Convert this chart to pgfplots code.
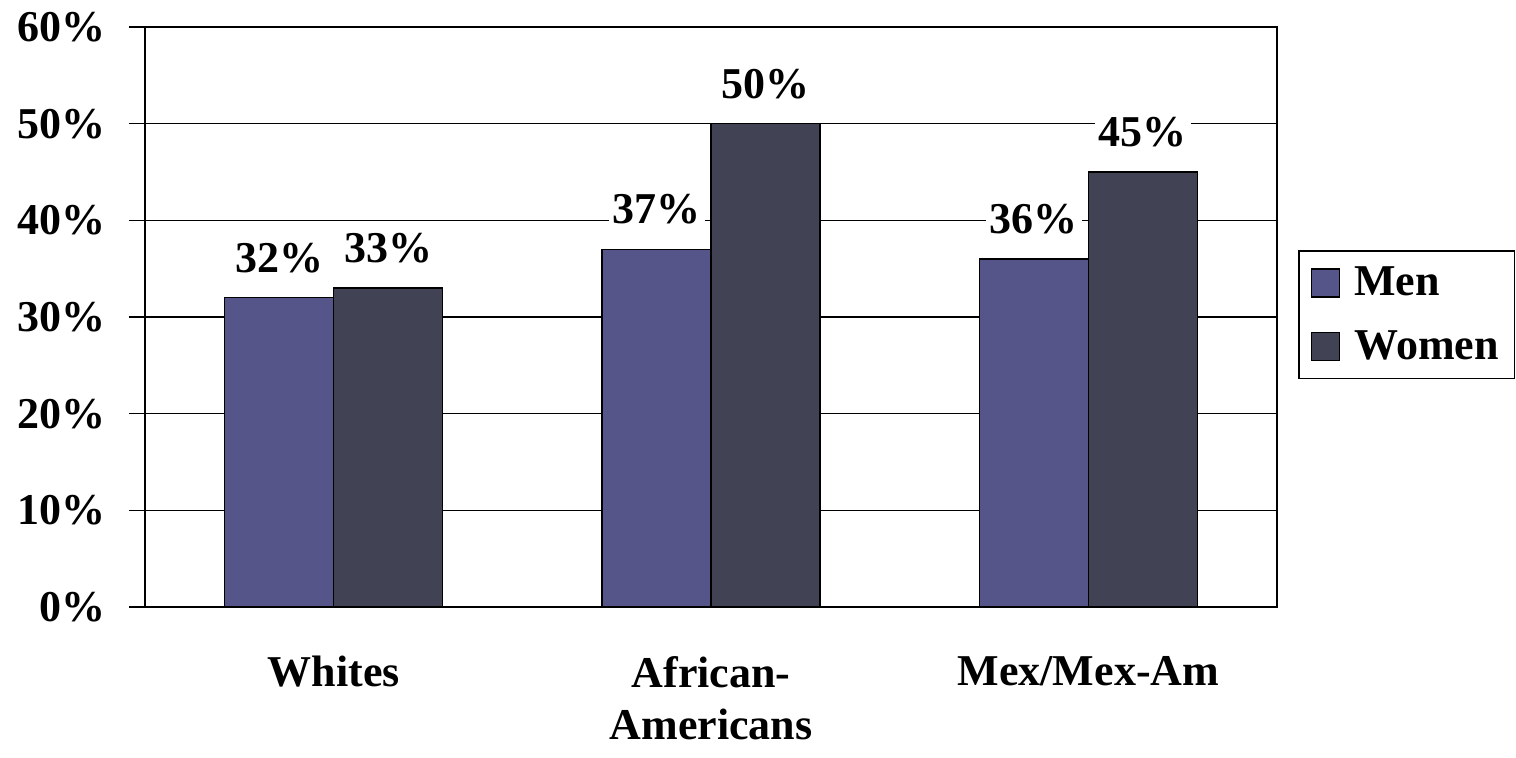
\documentclass[border=0pt]{standalone}
\usepackage{pgfplots}
\pgfplotsset{compat=1.18}
\usepackage{fontspec}
\setmainfont{Liberation Serif}
\definecolor{menc}{RGB}{85,85,138}
\definecolor{womenc}{RGB}{66,66,85}
\begin{document}
\begin{tikzpicture}
\path[use as bounding box] (-72.5pt,-75.5pt) rectangle (685.5pt,303.5pt);
\begin{axis}[
  at={(0pt,0pt)}, anchor=south west,
  scale only axis, width=566pt, height=290pt,
  ybar=0pt, bar width=54.5pt,
  xmin=-0.5, xmax=2.5, ymin=0, ymax=60,
  ytick={0,10,...,60},
  yticklabel={\pgfmathprintnumber{\tick}\%},
  ymajorgrids, grid style={black, line width=0.8pt},
  axis line style={black, line width=0.8pt},
  major tick style={black, line width=0.8pt},
  tick align=outside, major tick length=8pt,
  ytick pos=left, xtick pos=bottom,
  xtick={0,1,2},
  xticklabels={Whites, {African-\\Americans}, Mex/Mex-Am},
  x tick style={draw=none},
  extra x ticks={-0.5,0.5,1.5,2.5},
  extra x tick labels={},
  extra x tick style={grid=none, major tick length=8pt, tick style={draw=black, line width=0.8pt}},
  xticklabel style={font=\fontsize{22}{26}\selectfont\bfseries, align=center, yshift=-13pt},
  yticklabel style={font=\fontsize{22}{26}\selectfont\bfseries, xshift=-8pt},
  /pgf/number format/assume math mode=true,
  nodes near coords={\pgfmathprintnumber{\pgfplotspointmeta}\%},
  nodes near coords style={font=\fontsize{22}{26}\selectfont\bfseries, fill=white, inner sep=2pt, yshift=10pt},
  legend style={at={(1.0186,0.6155)}, anchor=north west, draw=black, line width=0.8pt,
    font=\fontsize{22}{26}\selectfont\bfseries, row sep=12pt, inner xsep=6pt, inner ysep=6pt},
  legend cell align=left,
  legend image code/.code={\draw[#1, line width=0.8pt] (0pt,-7pt) rectangle (14pt,7pt); \path (0pt,0pt) (19pt,0pt);},
]
\addplot[fill=menc, draw=black, line width=0.8pt] coordinates {(0,32) (1,37) (2,36)};
\addplot[fill=womenc, draw=black, line width=0.8pt] coordinates {(0,33) (1,50) (2,45)};
\legend{Men, Women}
\end{axis}
\end{tikzpicture}
\end{document}
